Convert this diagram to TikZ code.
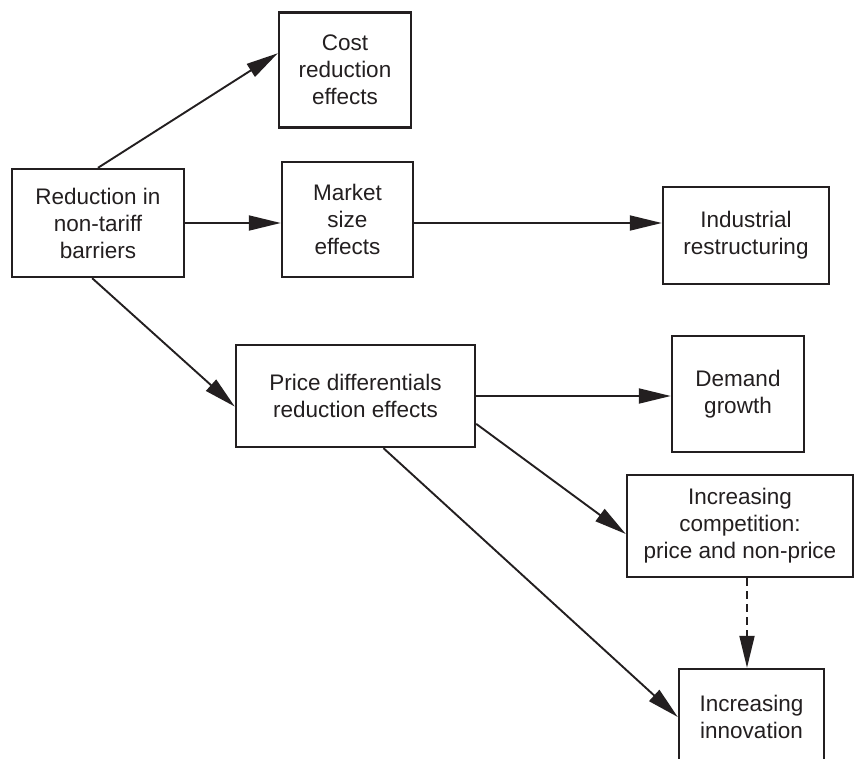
\documentclass[tikz,border=0pt]{standalone}
\usepackage{fontspec}
\setmainfont{Liberation Sans}
\usetikzlibrary{arrows.meta}
\definecolor{ink}{RGB}{35,31,32}
\tikzset{
  >={Triangle[length=32pt,width=15pt]},
  every node/.style={font=\fontsize{22.5}{27}\selectfont,text=ink},
  blk/.style={draw=ink,line width=2.4pt,fill=white,align=center,inner sep=2pt},
  flow/.style={->,draw=ink,line width=1.9pt},
  dflow/.style={flow,dash pattern=on 8pt off 5pt},
}
\begin{document}
\begin{tikzpicture}[x=1pt,y=1pt]
  \useasboundingbox (0,0) rectangle (856,-758);

  % ---------------- source
  \node[blk,minimum width=172pt,minimum height=108pt] (Red) at (98,-223) {Reduction in\\non-tariff\\barriers};

  % ---------------- first effects
  \node[blk,minimum width=132pt,minimum height=115pt] (Cost)  at (345,-70)    {Cost\\reduction\\effects};
  \node[blk,minimum width=131pt,minimum height=115pt] (Mkt)   at (347.5,-219.5) {Market\\size\\effects};
  \node[blk,minimum width=239pt,minimum height=102pt] (Price) at (355.5,-396) {Price differentials\\reduction effects};

  % ---------------- outcomes
  \node[blk,minimum width=166pt,minimum height=97pt]  (Ind)   at (746,-235.5) {Industrial\\restructuring};
  \node[blk,minimum width=132pt,minimum height=116pt] (Dem)   at (738,-394)   {Demand\\growth};
  \node[blk,minimum width=226pt,minimum height=102pt] (Comp)  at (740,-526)   {Increasing\\competition:\\price and non-price};
  \node[blk,minimum width=145pt,minimum height=96pt]  (Innov) at (751.5,-717) {Increasing\\innovation};

  % ---------------- links
  \draw[flow] (Red.north) -- (Cost.166);
  \draw[flow] (Red.east) -- (Red.east -| Mkt.west);
  \draw[flow] (Red.264) -- (Price.185);
  \draw[flow] (Mkt.east |- Red.east) -- (Red.east -| Ind.west);
  \draw[flow] (Price.east) -- (Price.east -| Dem.west);
  \draw[flow] (Price.347) -- (Comp.184);
  \draw[flow] ([xshift=28pt]Price.south) -- (Innov.west);
  \draw[dflow] ([xshift=7pt]Comp.south) -- ([xshift=7pt]Comp.south |- Innov.north);
\end{tikzpicture}
\end{document}
